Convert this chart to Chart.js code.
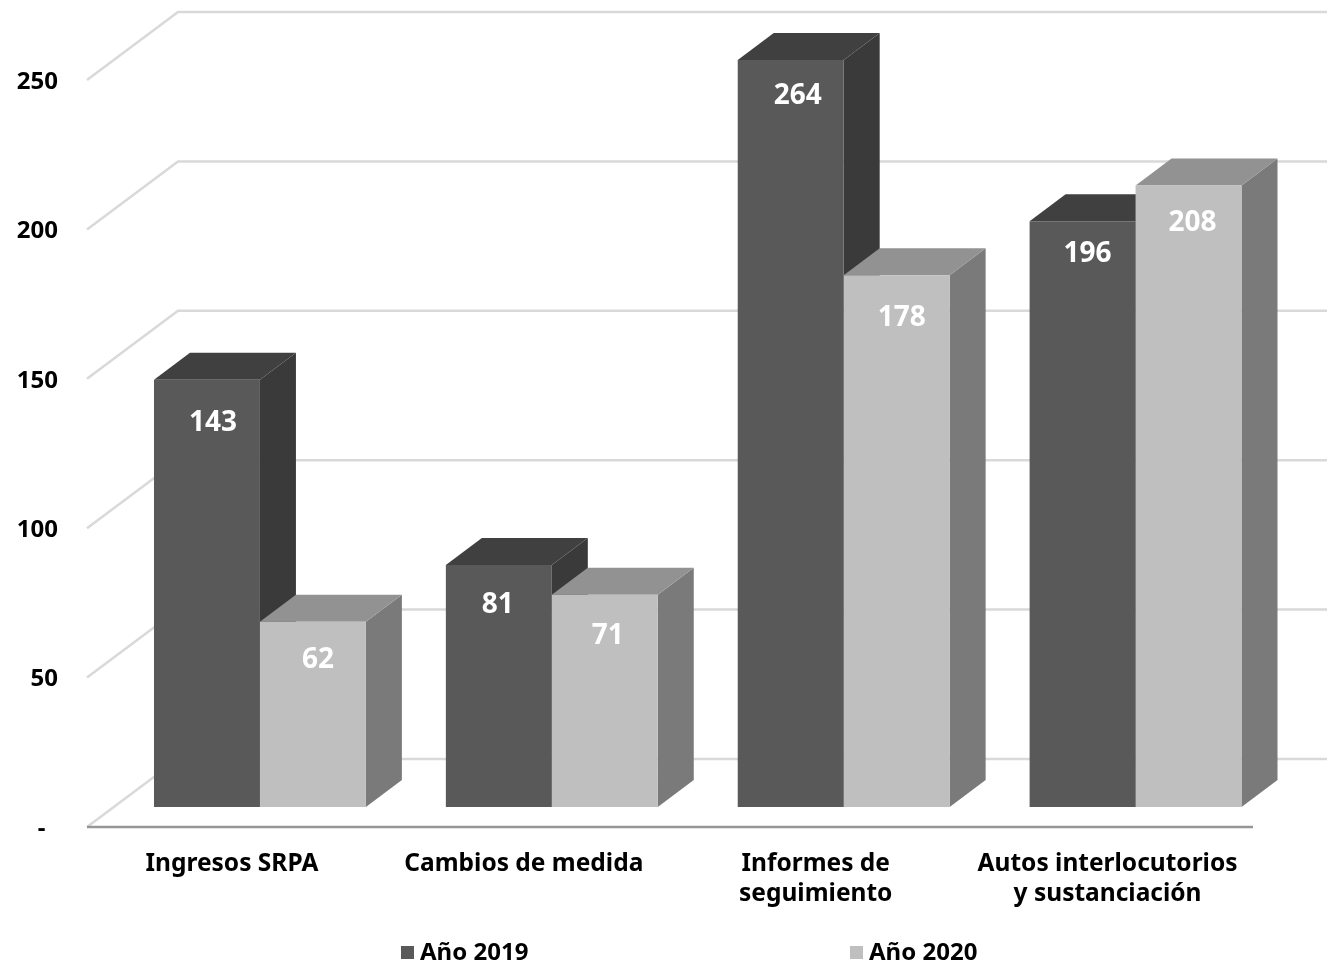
<!DOCTYPE html>
<html lang="es">
<head>
<meta charset="utf-8">
<title>Ingresos SRPA</title>
<script src="https://cdn.jsdelivr.net/npm/chart.js@4"></script>
<style>
  html, body { margin: 0; padding: 0; background: #fff; }
  canvas { display: block; }
</style>
</head>
<body>
<canvas id="chart" width="1327" height="963"></canvas>
<script>
"use strict";

const categorias = [
  "Ingresos SRPA",
  "Cambios de medida",
  ["Informes de", "seguimiento"],
  ["Autos interlocutorios", "y sustanciación"],
];
const valores2019 = [143, 81, 264, 196];
const valores2020 = [62, 71, 178, 208];
const etiquetasSeries = ["Año 2019", "Año 2020"];
const maximoEje = 250;
const pasoEje = 50;

const FUENTE = '"Noto Sans", sans-serif';
const TEXTO = "#000000";
const GRID = "#d9d9d9";

// colores de las caras de cada serie
const caras = [
  { frente: "#595959", lado: "#3a3a3a", tapa: "#404040" },
  { frente: "#bfbfbf", lado: "#7a7a7a", tapa: "#929292" },
];

// fondo de la caja 3D, medido desde el plano de las barras
const PROF_BARRA = { x: 36, y: -27 };
const PARED = { x: 178, dy: -48, finX: 1327 };
const FRENTE = { x: 87, dy: 20, finX: 1253 };

// ajuste a mano de las etiquetas de valor respecto a la tapa de cada barra
const caidaEtiqueta = [
  [43, 40, 36, 33],
  [38, 41, 43, 38],
];
const desvioEtiqueta = [
  [6, -1, 7, 5],
  [5, 3, 5, 4],
];

const cajaPlugin = {
  id: "caja3d",
  beforeDatasetsDraw(chart) {
    const ctx = chart.ctx;
    const y = chart.scales.y;

    ctx.save();
    ctx.lineWidth = 2.5;
    y.ticks.forEach((t) => {
      const py = y.getPixelForValue(t.value);
      ctx.strokeStyle = GRID;
      ctx.beginPath();
      ctx.moveTo(FRENTE.x, py + FRENTE.dy);
      ctx.lineTo(PARED.x, py + PARED.dy);
      ctx.lineTo(PARED.finX, py + PARED.dy);
      ctx.stroke();
    });

    const cero = y.getPixelForValue(0);
    ctx.strokeStyle = "#969696";
    ctx.beginPath();
    ctx.moveTo(FRENTE.x, cero + FRENTE.dy);
    ctx.lineTo(FRENTE.finX, cero + FRENTE.dy);
    ctx.stroke();

    // caras laterales y tapas de las barras
    chart.data.datasets.forEach((ds, i) => {
      const c = caras[i];
      chart.getDatasetMeta(i).data.forEach((bar) => {
        const top = Math.max(bar.y, chart.chartArea.top);
        const izq = bar.x - bar.width / 2;
        const der = bar.x + bar.width / 2;

        ctx.fillStyle = c.lado;
        ctx.beginPath();
        ctx.moveTo(der, top);
        ctx.lineTo(der + PROF_BARRA.x, top + PROF_BARRA.y);
        ctx.lineTo(der + PROF_BARRA.x, bar.base + PROF_BARRA.y);
        ctx.lineTo(der, bar.base);
        ctx.closePath();
        ctx.fill();

        ctx.fillStyle = c.tapa;
        ctx.beginPath();
        ctx.moveTo(izq, top);
        ctx.lineTo(izq + PROF_BARRA.x, top + PROF_BARRA.y);
        ctx.lineTo(der + PROF_BARRA.x, top + PROF_BARRA.y);
        ctx.lineTo(der, top);
        ctx.closePath();
        ctx.fill();
      });
    });
    ctx.restore();
  },
  afterDatasetsDraw(chart) {
    const ctx = chart.ctx;
    ctx.save();

    // valores dentro de las barras
    ctx.font = "bold 28px " + FUENTE;
    ctx.fillStyle = "#ffffff";
    ctx.textAlign = "center";
    ctx.textBaseline = "middle";
    chart.data.datasets.forEach((ds, i) => {
      chart.getDatasetMeta(i).data.forEach((bar, j) => {
        const top = Math.max(bar.y, chart.chartArea.top);
        ctx.fillText(String(ds.data[j]), bar.x + desvioEtiqueta[i][j], top + caidaEtiqueta[i][j]);
      });
    });

    // leyenda
    const posX = [401, 850];
    ctx.font = "bold 24px " + FUENTE;
    ctx.textAlign = "left";
    chart.data.datasets.forEach((ds, i) => {
      ctx.fillStyle = ds.backgroundColor;
      ctx.fillRect(posX[i], 946, 13, 13);
      ctx.fillStyle = TEXTO;
      ctx.fillText(ds.label, posX[i] + 19, 953);
    });
    ctx.restore();
  },
};

new Chart(document.getElementById("chart"), {
  type: "bar",
  data: {
    labels: categorias,
    datasets: [
      { label: etiquetasSeries[0], data: valores2019, backgroundColor: caras[0].frente },
      { label: etiquetasSeries[1], data: valores2020, backgroundColor: caras[1].frente },
    ],
  },
  options: {
    responsive: false,
    animation: false,
    layout: { padding: { top: 60, right: 45.5, bottom: 0, left: 0 } },
    plugins: {
      legend: { display: false },
      tooltip: { enabled: false },
    },
    datasets: { bar: { categoryPercentage: 0.726, barPercentage: 1 } },
    scales: {
      x: {
        grid: { display: false, drawTicks: false },
        border: { display: false },
        afterFit: (s) => { s.height = 156; },
        ticks: {
          color: TEXTO,
          font: { family: FUENTE, weight: "bold", size: 24.5, lineHeight: 1.22 },
          padding: 42,
          labelOffset: -28,
          maxRotation: 0,
          autoSkip: false,
        },
      },
      y: {
        min: 0,
        max: maximoEje,
        grid: { display: false, drawTicks: false },
        border: { display: false },
        afterFit: (s) => {
          s.width = 114;
          // el padding de ticks no debe reservar sitio arriba
          s.paddingTop = 0;
          s.paddingBottom = 0;
        },
        ticks: {
          stepSize: pasoEje,
          color: TEXTO,
          font: { family: FUENTE, weight: "bold", size: 24 },
          padding: 56,
          labelOffset: 22,
          callback: (v) => (v === 0 ? "-  " : String(v)),
        },
      },
    },
  },
  plugins: [cajaPlugin],
});
</script>
</body>
</html>
